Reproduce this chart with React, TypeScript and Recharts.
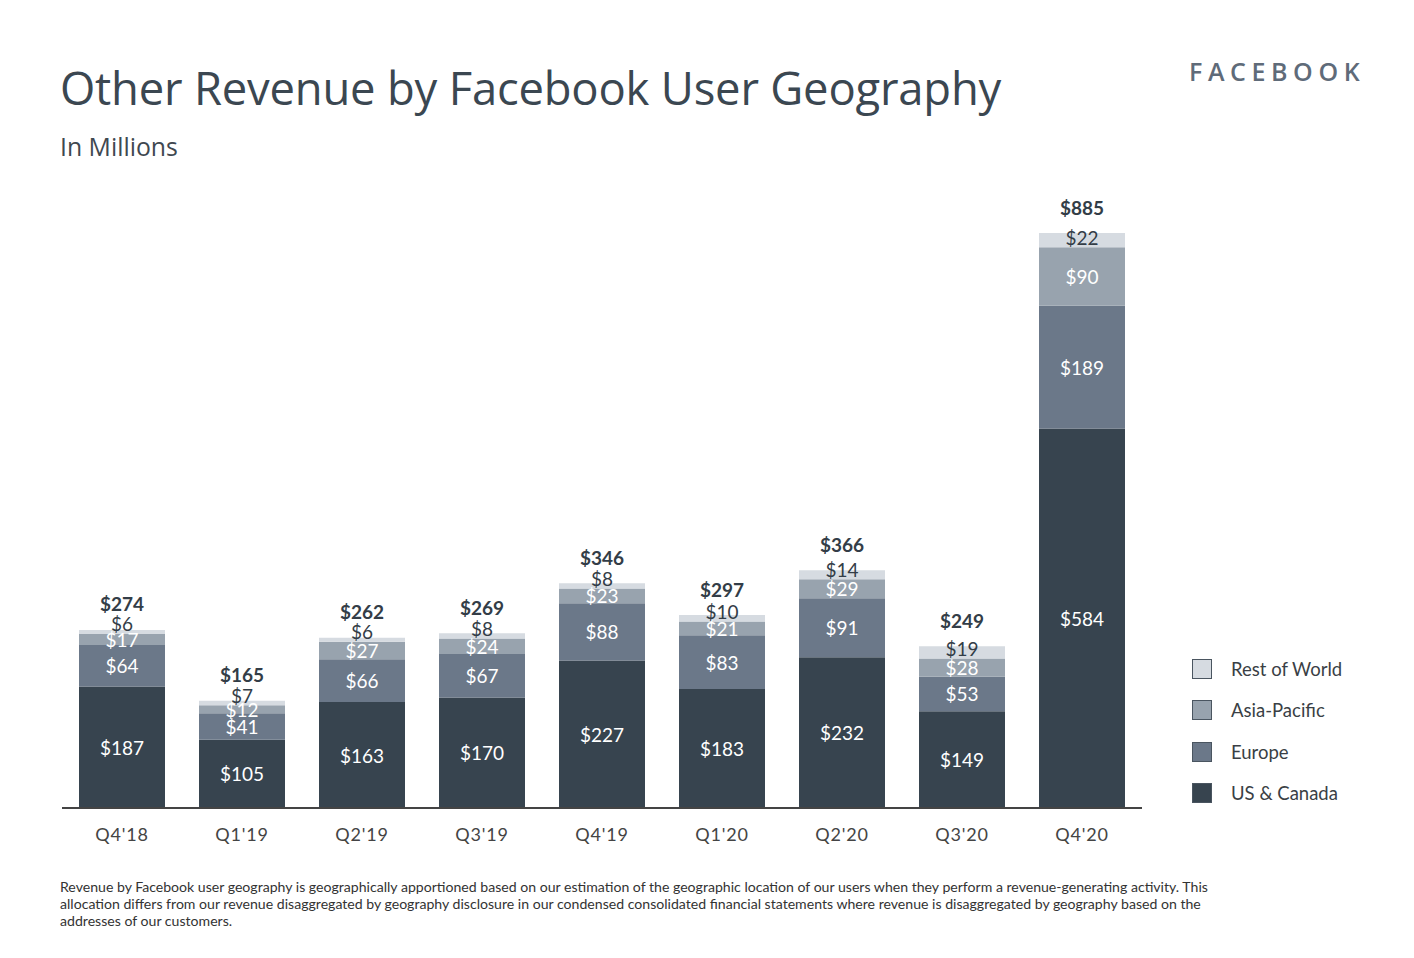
import React from "react";
import { BarChart, Bar, XAxis, YAxis, LabelList, Legend } from "recharts";

const quarters = ["Q4'18", "Q1'19", "Q2'19", "Q3'19", "Q4'19", "Q1'20", "Q2'20", "Q3'20", "Q4'20"];
const usCanada = [187, 105, 163, 170, 227, 183, 232, 149, 584];
const europe = [64, 41, 66, 67, 88, 83, 91, 53, 189];
const asiaPacific = [17, 12, 27, 24, 23, 21, 29, 28, 90];
const restOfWorld = [6, 7, 6, 8, 8, 10, 14, 19, 22];
const totals = [274, 165, 262, 269, 346, 297, 366, 249, 885];

const series = [
  { key: "us", name: "US & Canada", color: "#37444f" },
  { key: "eu", name: "Europe", color: "#6b7889" },
  { key: "ap", name: "Asia-Pacific", color: "#98a3ae" },
  { key: "row", name: "Rest of World", color: "#d6dbe1" },
];

const data = quarters.map((q, i) => ({
  q,
  us: usCanada[i],
  eu: europe[i],
  ap: asiaPacific[i],
  row: restOfWorld[i],
  total: totals[i],
}));

const LABEL_FONT = "Lato, 'Open Sans', sans-serif";

const innerLabel = (props: any) => {
  const { x, y, width, height, value } = props;
  return (
    <text x={x + width / 2} y={y + height / 2} textAnchor="middle" dominantBaseline="central"
      fill="#ffffff" fontSize={19} fontFamily={LABEL_FONT}>
      ${value}
    </text>
  );
};

const rowLabel = (props: any) => {
  const { x, y, width, height, value } = props;
  return (
    <text x={x + width / 2} y={y + height - 10} textAnchor="middle" dominantBaseline="central"
      fill="#333d47" fontSize={19} fontFamily={LABEL_FONT}>
      ${value}
    </text>
  );
};

const totalLabel = (props: any) => {
  const { x, y, width, value } = props;
  return (
    <text x={x + width / 2} y={y - 26} textAnchor="middle" dominantBaseline="central"
      fill="#333d47" fontSize={19} fontWeight={700} fontFamily={LABEL_FONT}>
      ${value}
    </text>
  );
};

const legendContent = () => (
  <div style={{ position: "absolute", left: 0, top: 0 }}>
    {[...series].reverse().map((s, i) => (
      <div key={s.key} style={{ position: "absolute", left: 0, top: i * 41.3, display: "flex", alignItems: "center", whiteSpace: "nowrap" }}>
        <div style={{ width: 18, height: 18, background: s.color, border: "1px solid #4a5560" }} />
        <span style={{ marginLeft: 19, fontSize: 18.5, color: "#3a3f45", fontFamily: LABEL_FONT }}>{s.name}</span>
      </div>
    ))}
  </div>
);

export default function App() {
  return (
    <div style={{ position: "absolute", left: 0, top: 0, width: 1414, height: 958, background: "#fff", overflow: "hidden" }}>
      <div style={{ position: "absolute", left: 60, top: 56, fontSize: 45.4, color: "#3b4751", fontFamily: "'Open Sans', sans-serif", whiteSpace: "nowrap", letterSpacing: -0.2 }}>
        Other Revenue by Facebook User Geography
      </div>
      <div style={{ position: "absolute", left: 60, top: 129, fontSize: 24.8, color: "#3f4850", fontFamily: "'Open Sans', sans-serif", whiteSpace: "nowrap" }}>
        In Millions
      </div>
      <div style={{ position: "absolute", left: 1189, top: 54, fontSize: 25, color: "#5f6b79", fontFamily: "'Open Sans', sans-serif", fontWeight: 600, letterSpacing: 5.6, whiteSpace: "nowrap" }}>
        FACEBOOK
      </div>
      <BarChart width={1414} height={958} data={data}
        margin={{ top: 233, right: 272, bottom: 110, left: 62 }} barCategoryGap={17}>
        <XAxis dataKey="q" height={40} tickLine={false} axisLine={{ stroke: "#444", strokeWidth: 2 }}
          tick={{ fill: "#444", fontSize: 18, fontFamily: LABEL_FONT, letterSpacing: 0.8 }} dy={12} />
        <YAxis hide domain={[0, 885]} />
        <Legend content={legendContent} wrapperStyle={{ left: 1192, top: 658, width: 200 }} />
        <Bar dataKey="us" name="US & Canada" stackId="a" fill={series[0].color} isAnimationActive={false}>
          <LabelList dataKey="us" content={innerLabel} />
        </Bar>
        <Bar dataKey="eu" name="Europe" stackId="a" fill={series[1].color} isAnimationActive={false}>
          <LabelList dataKey="eu" content={innerLabel} />
        </Bar>
        <Bar dataKey="ap" name="Asia-Pacific" stackId="a" fill={series[2].color} isAnimationActive={false}>
          <LabelList dataKey="ap" content={innerLabel} />
        </Bar>
        <Bar dataKey="row" name="Rest of World" stackId="a" fill={series[3].color} isAnimationActive={false}>
          <LabelList dataKey="row" content={rowLabel} />
          <LabelList dataKey="total" content={totalLabel} />
        </Bar>
      </BarChart>
      <div style={{ position: "absolute", left: 60, top: 878, width: 1200, fontSize: 14.1, lineHeight: "17px", color: "#333", fontFamily: LABEL_FONT, whiteSpace: "nowrap" }}>
        Revenue by Facebook user geography is geographically apportioned based on our estimation of the geographic location of our users when they perform a revenue-generating activity. This<br />
        allocation differs from our revenue disaggregated by geography disclosure in our condensed consolidated financial statements where revenue is disaggregated by geography based on the<br />
        addresses of our customers.
      </div>
    </div>
  );
}
